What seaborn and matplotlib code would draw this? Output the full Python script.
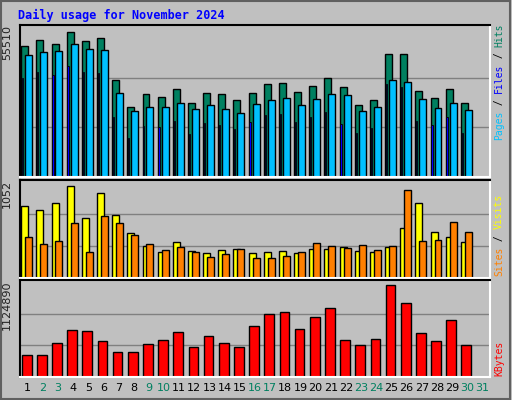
import matplotlib
matplotlib.use("Agg")
import matplotlib.pyplot as plt
import seaborn as sns
import numpy as np

# --- Data ---
days = list(range(1, 31))
day_labels = [str(d) for d in range(1, 32)]
weekend_days = [2, 3, 9, 10, 16, 17, 23, 24, 30, 31]

hits = [48874, 51085, 49611, 54032, 50716, 51822, 35980, 26034, 30823, 29718,
        32665, 27507, 31191, 30823, 28612, 31191, 34507, 34875, 31560, 33770,
        36717, 33402, 26770, 28612, 45927, 45927, 31928, 29349, 32665, 27507]
files = [45559, 46664, 47032, 49611, 47769, 47401, 31191, 24560, 26034, 26034,
         27507, 25297, 26770, 25297, 23823, 27139, 28612, 29349, 26770, 28981,
         30823, 30454, 24560, 26034, 35980, 35244, 28981, 25665, 27507, 24928]
pages = [36717, 39296, 37822, 41506, 39296, 38559, 22350, 14613, 19034, 18666,
         20876, 16087, 20139, 19402, 17929, 20508, 23086, 23455, 20508, 22350,
         24192, 19771, 16455, 18297, 34507, 33402, 20876, 19402, 22350, 16455]
visits = [792, 748, 825, 1012, 660, 935, 693, 495, 352, 286,
          396, 297, 275, 308, 319, 275, 286, 297, 275, 319,
          319, 341, 297, 286, 341, 550, 825, 506, 451, 396]
sites = [451, 374, 407, 605, 286, 682, 605, 473, 374, 308,
         341, 286, 231, 264, 319, 220, 220, 242, 286, 385,
         352, 330, 363, 308, 352, 968, 407, 418, 616, 506]
kbytes = [264450, 264450, 406541, 560474, 548633, 430223, 299972, 299972, 394700, 442064,
          536792, 359177, 489428, 406541, 359177, 607838, 749930, 773612, 572315, 714407,
          820976, 442064, 382859, 453905, 1085425, 880181, 524951, 430223, 678884, 382859]

max_hits = 55510
max_visits = 1052
max_kbytes = 1124890

C_HITS, C_FILES, C_PAGES = "#008060", "#00C0FF", "#0000FF"
C_VISITS, C_SITES, C_KB = "#FFFF00", "#FF8000", "#FF0000"
BG = "#C0C0C0"

sns.set_style("white")
plt.rcParams['font.family'] = ['DejaVu Sans Mono', 'DejaVu Sans']

W, H = 512, 400
fig = plt.figure(figsize=(W / 100, H / 100), dpi=100, facecolor=BG)
fig.patches.append(plt.Rectangle((0.002, 0.003), 0.994, 0.994, transform=fig.transFigure,
                                 fill=False, edgecolor="#606060", linewidth=1.5))


def px_axes(top, bottom):
    left, right = 20, 490
    return fig.add_axes([left / W, 1 - bottom / H, (right - left) / W, (bottom - top) / H])


def style(ax, ymax, label):
    ax.set_facecolor(BG)
    ax.set_xlim(0.5, 31.5)
    ax.set_ylim(0, ymax * 1.02)
    for y in (ymax / 3, ymax * 2 / 3):
        ax.axhline(y, color="#808080", lw=1, zorder=0)
    ax.set_xticks([])
    ax.set_yticks([])
    ax.spines["left"].set_color("black")
    ax.spines["top"].set_color("black")
    ax.spines["right"].set_color("white")
    ax.spines["bottom"].set_color("white")
    for s in ax.spines.values():
        s.set_linewidth(1.5)
    ax.text(-0.027, 1.0, label, transform=ax.transAxes, rotation=90,
            ha="center", va="top", fontsize=8, family="DejaVu Sans", color="#202020")


x = np.array(days)
ekw = dict(edgecolor="black", linewidth=1, align="edge")

ax1 = px_axes(25, 177)
style(ax1, max_hits, str(max_hits))
ax1.bar(x - 0.42, hits, width=0.46, color=C_HITS, **ekw)
ax1.bar(x - 0.16, files, width=0.46, color=C_FILES, **ekw)
ax1.bar(x - 0.37, pages, width=0.08, color=C_PAGES, edgecolor="black", linewidth=0.6, align="edge")

ax2 = px_axes(180, 278)
style(ax2, max_visits, str(max_visits))
ax2.bar(x - 0.42, visits, width=0.46, color=C_VISITS, **ekw)
ax2.bar(x - 0.16, sites, width=0.46, color=C_SITES, **ekw)

ax3 = px_axes(280, 377)
style(ax3, max_kbytes, str(max_kbytes))
ax3.bar(x - 0.38, kbytes, width=0.64, color=C_KB, **ekw)

# day labels
for d, lab in zip(range(1, 32), day_labels):
    col = "#008060" if d in weekend_days else "black"
    ax3.text(d, -0.06, lab, transform=ax3.get_xaxis_transform(), ha="center",
             va="top", fontsize=8, family="DejaVu Sans", color=col)


# right side coloured labels, stacked from bottom upward
def side_label(pieces, bottom_px, size=7):
    cw = 0.6 * size * 100 / 72
    y = bottom_px
    for txt, col in pieces:
        fig.text(499 / W, 1 - y / H, txt, rotation=90, ha="center", va="bottom",
                 fontsize=size, color=col)
        y -= cw * len(txt)


side_label([("Pages", C_FILES), (" / ", "black"), ("Files", C_PAGES),
            (" / ", "black"), ("Hits", C_HITS)], 140)
side_label([("Sites", C_SITES), (" / ", "black"), ("Visits", C_VISITS)], 276)
side_label([("KBytes", C_KB)], 376)

fig.text(18 / W, 1 - 15 / H, "Daily usage for November 2024", color="#0000FF",
         fontsize=8.5, fontweight="bold", va="center", ha="left")

fig.savefig("out.png", dpi=100, facecolor=BG)
